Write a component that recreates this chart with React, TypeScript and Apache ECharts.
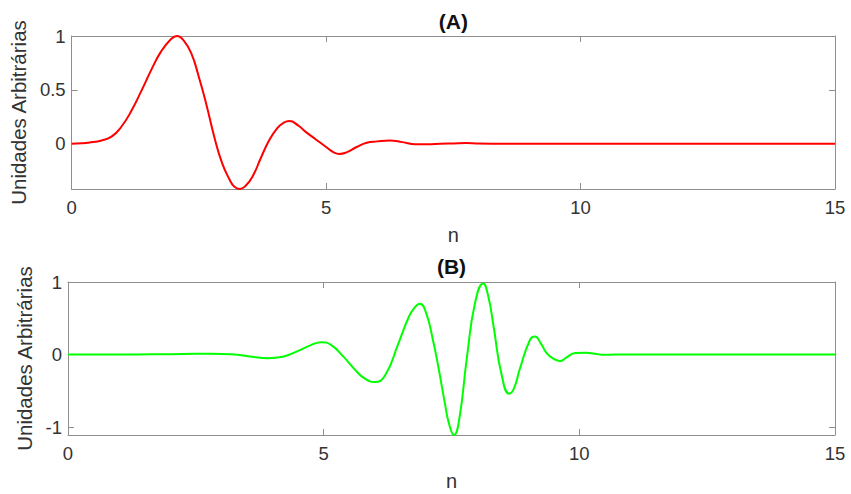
import React, { useEffect, useRef } from "react";
import * as echarts from "echarts";

// Panel (A)
const nA = [0, 0.2, 0.33, 0.59, 0.79, 0.98, 1.18, 1.38, 1.57, 1.75, 1.95, 2.07, 2.2, 2.35, 2.5, 2.65, 2.8, 2.95, 3.1, 3.2, 3.3, 3.42, 3.56, 3.72, 3.89, 4.05, 4.15, 4.28, 4.45, 4.6, 4.8, 5.0, 5.15, 5.26, 5.4, 5.6, 5.8, 6.0, 6.25, 6.5, 6.75, 7.0, 7.25, 7.5, 7.75, 8.0, 8.5, 9, 10, 11, 12, 13, 14, 15];
const vA = [0, 0.004, 0.01, 0.03, 0.068, 0.16, 0.31, 0.5, 0.69, 0.85, 0.97, 1.0, 0.96, 0.84, 0.62, 0.36, 0.07, -0.17, -0.33, -0.4, -0.42, -0.39, -0.3, -0.13, 0.04, 0.15, 0.19, 0.21, 0.17, 0.11, 0.04, -0.03, -0.08, -0.095, -0.08, -0.03, 0.01, 0.022, 0.03, 0.015, -0.005, -0.005, 0, 0.003, 0.006, 0.002, 0, 0, 0, 0, 0, 0, 0, 0];

// Panel (B)
const nB = [0, 1, 2, 2.5, 2.8, 3.2, 3.6, 3.9, 4.2, 4.5, 4.75, 4.96, 5.15, 5.4, 5.6, 5.8, 6.0, 6.2, 6.46, 6.66, 6.77, 6.88, 7.0, 7.14, 7.25, 7.37, 7.45, 7.55, 7.65, 7.8, 7.96, 8.12, 8.22, 8.32, 8.48, 8.63, 8.72, 8.84, 9.04, 9.13, 9.25, 9.36, 9.5, 9.62, 9.75, 9.92, 10.14, 10.3, 10.5, 10.7, 11, 12, 13, 14, 15];
const vB = [0, 0, 0.005, 0.01, 0.012, 0.005, -0.03, -0.05, -0.03, 0.05, 0.13, 0.17, 0.13, -0.04, -0.2, -0.33, -0.38, -0.29, 0.15, 0.51, 0.64, 0.7, 0.58, 0.19, -0.2, -0.67, -0.95, -1.11, -0.9, -0.05, 0.71, 0.98, 0.8, 0.4, -0.28, -0.54, -0.47, -0.19, 0.21, 0.25, 0.15, 0.02, -0.06, -0.09, -0.04, 0.02, 0.025, 0.01, -0.005, 0, 0, 0, 0, 0, 0];

const xTicks = [0, 5, 10, 15];
const yTicksA = [0, 0.5, 1];
const yTicksB = [-1, 0, 1];
const titles = ["(A)", "(B)"];
const xName = "n";
const yName = "Unidades Arbitrárias";

const FONT = "'Liberation Sans', Arial, sans-serif";
const LINE = "#8f8f8f";
const TEXT = "#333333";

export default function App() {
  const ref = useRef<HTMLDivElement>(null);
  useEffect(() => {
    const chart = echarts.init(ref.current!, null, { renderer: "svg" });
    const tick = { show: true, inside: true, length: 6, lineStyle: { color: LINE, width: 1 } };
    const axLine = { show: true, onZero: false, lineStyle: { color: LINE, width: 1 } };
    const mkX = (gi: number, title: string, gap: number) => [
      {
        type: "value", gridIndex: gi, position: "bottom", min: 0, max: 15, interval: 5,
        axisLine: axLine, axisTick: tick, splitLine: { show: false },
        axisLabel: { show: true, margin: 9, color: TEXT, fontSize: 18.5, fontFamily: FONT,
          customValues: xTicks },
        name: xName, nameLocation: "middle", nameGap: 36,
        nameTextStyle: { color: TEXT, fontSize: 20, fontFamily: FONT },
      },
      {
        type: "value", gridIndex: gi, position: "top", min: 0, max: 15, interval: 5,
        axisLine: axLine, axisTick: tick, splitLine: { show: false },
        axisLabel: { show: false },
        name: title, nameLocation: "middle", nameGap: gap,
        nameTextStyle: { color: "#111", fontSize: 21, fontWeight: "bold", fontFamily: FONT },
      },
    ];
    const mkY = (gi: number, min: number, max: number, ticks: number[], gap: number) => [
      {
        type: "value", gridIndex: gi, position: "left", min, max,
        axisLine: axLine, axisTick: { ...tick, customValues: ticks }, splitLine: { show: false },
        axisLabel: { show: true, margin: 6, color: TEXT, fontSize: 18.5, fontFamily: FONT,
          customValues: ticks },
        name: yName, nameLocation: "middle", nameGap: gap,
        nameTextStyle: { color: TEXT, fontSize: 20.5, fontFamily: FONT },
      },
      {
        type: "value", gridIndex: gi, position: "right", min, max,
        axisLine: axLine, axisTick: { ...tick, customValues: ticks }, splitLine: { show: false },
        axisLabel: { show: false },
      },
    ];
    chart.setOption({
      animation: false,
      backgroundColor: "#ffffff",
      grid: [
        { left: 68, top: 36, width: 767, height: 153 },
        { left: 68, top: 282, width: 767, height: 153 },
      ],
      xAxis: [...mkX(0, titles[0], 4), ...mkX(1, titles[1], 5)],
      yAxis: [...mkY(0, -0.42, 1, yTicksA, 36), ...mkY(1, -1.11, 1, yTicksB, 27)],
      series: [
        {
          type: "line", xAxisIndex: 0, yAxisIndex: 0, smooth: 0.5, showSymbol: false,
          data: nA.map((n, i) => [n, vA[i]]),
          lineStyle: { color: "#ff0000", width: 2 }, itemStyle: { color: "#ff0000" },
        },
        {
          type: "line", xAxisIndex: 2, yAxisIndex: 2, smooth: 0.5, showSymbol: false,
          data: nB.map((n, i) => [n, vB[i]]),
          lineStyle: { color: "#00ff00", width: 2 }, itemStyle: { color: "#00ff00" },
        },
      ],
    });
    return () => chart.dispose();
  }, []);
  return (
    <div
      ref={ref}
      style={{ position: "fixed", left: 0, top: 0, width: 851, height: 494, background: "#fff" }}
    />
  );
}
